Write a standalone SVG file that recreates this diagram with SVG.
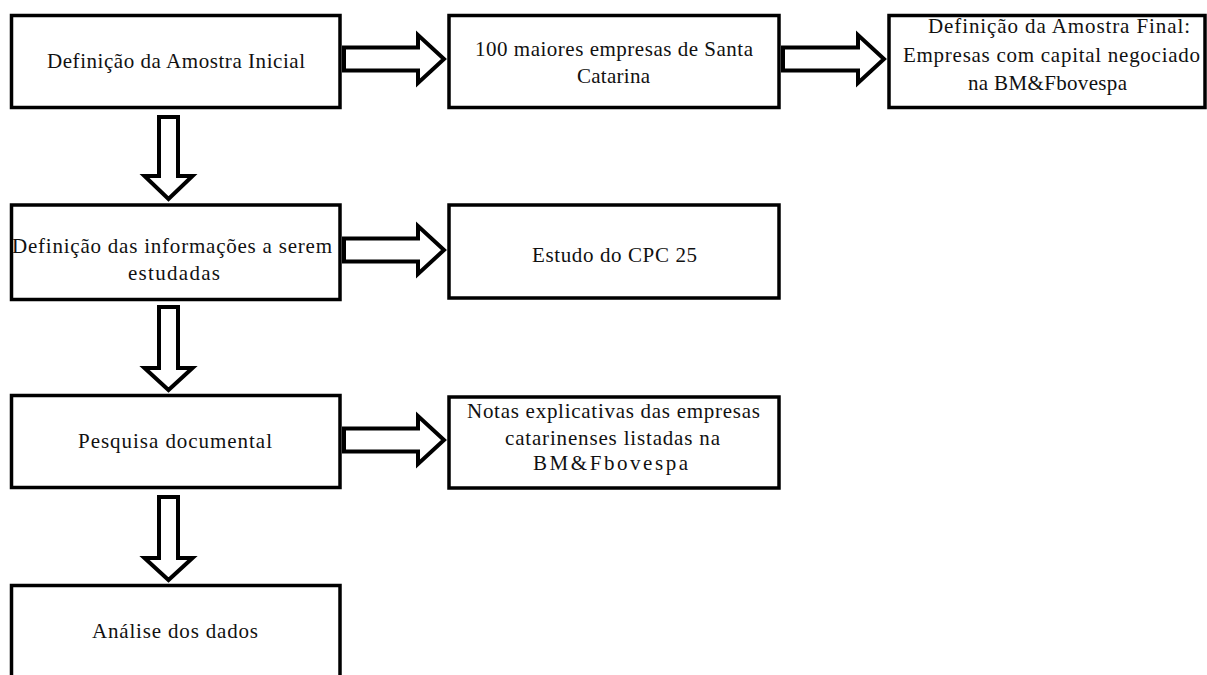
<svg xmlns="http://www.w3.org/2000/svg" width="1207" height="675" viewBox="0 0 1207 675">
<style>
.box{fill:#fff;stroke:#000;stroke-width:3.5}
.arr{fill:#fff;stroke:#000;stroke-width:4;stroke-linejoin:miter}
.t{font-family:"Liberation Serif","Times New Roman",serif;font-size:21px;fill:#111}
</style>
<rect width="1207" height="675" fill="#fff"/>
<g id="connectors">
<polygon class="arr" points="344,47.5 418,47.5 418,35 444,59 418,83 418,70.5 344,70.5"/>
<polygon class="arr" points="783,47.5 858,47.5 858,35 884,59 858,83 858,70.5 783,70.5"/>
<polygon class="arr" points="344,238.5 418,238.5 418,226 444,250 418,274 418,261.5 344,261.5"/>
<polygon class="arr" points="344,428.5 418,428.5 418,416 444,440 418,464 418,451.5 344,451.5"/>
<polygon class="arr" points="159,117 178,117 178,176 192.5,176 168.5,199 144.5,176 159,176"/>
<polygon class="arr" points="159,307 178,307 178,368 192.5,368 168.5,390 144.5,368 159,368"/>
<polygon class="arr" points="159,497 178,497 178,558 192.5,558 168.5,580 144.5,558 159,558"/>
</g>
<g id="n1"><rect class="box" x="11.5" y="15.5" width="328.5" height="92"/>
<text class="t" x="47" y="68" textLength="258" lengthAdjust="spacing">Definição da Amostra Inicial</text></g>
<g id="n2"><rect class="box" x="449" y="15.5" width="330" height="92"/>
<text class="t" x="475" y="56" textLength="278" lengthAdjust="spacing">100 maiores empresas de Santa</text>
<text class="t" x="577" y="83" textLength="73" lengthAdjust="spacing">Catarina</text></g>
<g id="n3"><rect class="box" x="889" y="15.5" width="316" height="92"/>
<text class="t" x="928" y="33" textLength="262" lengthAdjust="spacing">Definição da Amostra Final:</text>
<text class="t" x="903" y="62" textLength="297" lengthAdjust="spacing">Empresas com capital negociado</text>
<text class="t" x="968" y="90" textLength="159" lengthAdjust="spacing">na BM&amp;Fbovespa</text></g>
<g id="n4"><rect class="box" x="11.5" y="205" width="328.5" height="94.5"/>
<text class="t" x="12" y="253" textLength="320" lengthAdjust="spacing">Definição das informações a serem</text>
<text class="t" x="128" y="280" textLength="92" lengthAdjust="spacing">estudadas</text></g>
<g id="n5"><rect class="box" x="449" y="205" width="330" height="93"/>
<text class="t" x="532" y="262" textLength="165" lengthAdjust="spacing">Estudo do CPC 25</text></g>
<g id="n6"><rect class="box" x="11.5" y="395.5" width="328.5" height="92"/>
<text class="t" x="78" y="448" textLength="194" lengthAdjust="spacing">Pesquisa documental</text></g>
<g id="n7"><rect class="box" x="449" y="397" width="330" height="91"/>
<text class="t" x="467" y="418" textLength="293" lengthAdjust="spacing">Notas explicativas das empresas</text>
<text class="t" x="505" y="445" textLength="215" lengthAdjust="spacing">catarinenses listadas na</text>
<text class="t" x="533" y="470" textLength="155" lengthAdjust="spacing">BM&amp;Fbovespa</text></g>
<g id="n8"><rect class="box" x="11.5" y="585.5" width="328.5" height="110"/>
<text class="t" x="92" y="638" textLength="166" lengthAdjust="spacing">Análise dos dados</text></g>
</svg>
